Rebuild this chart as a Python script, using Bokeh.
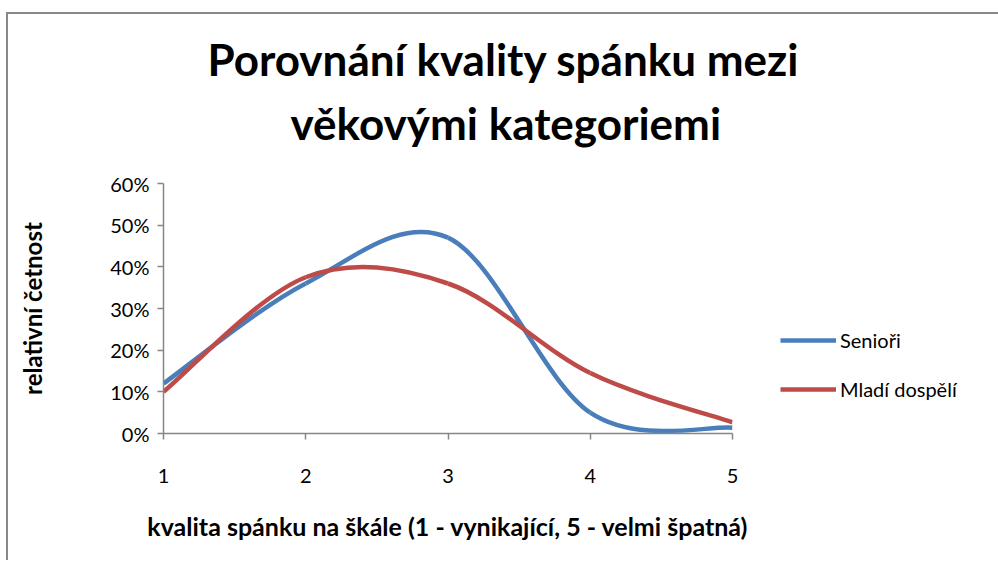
from bokeh.plotting import figure
from bokeh.models import (FixedTicker, NumeralTickFormatter, Legend, LegendItem,
                          ColumnDataSource, Range1d, Title)
from bokeh.embed import file_html
from bokeh.resources import INLINE

# ---- data ----
quality = [1, 2, 3, 4, 5]
seniori = [0.12, 0.36, 0.47, 0.05, 0.014]
mladi = [0.10, 0.375, 0.36, 0.145, 0.027]
series_names = ["Senioři", "Mladí dospělí"]
series_colors = ["#4A7EBB", "#BE4B48"]
y_ticks = [0, 0.1, 0.2, 0.3, 0.4, 0.5, 0.6]
title_lines = ["Porovnání kvality spánku mezi", "věkovými kategoriemi"]

FONT = "Lato"


def bezier_source(xs, ys):
    """Catmull-Rom style control points (Excel smoothed line)."""
    n = len(xs)
    d = dict(x0=[], y0=[], x1=[], y1=[], cx0=[], cy0=[], cx1=[], cy1=[])
    for i in range(n - 1):
        ip = max(i - 1, 0)
        inn = min(i + 2, n - 1)
        d["x0"].append(xs[i]); d["y0"].append(ys[i])
        d["x1"].append(xs[i + 1]); d["y1"].append(ys[i + 1])
        d["cx0"].append(xs[i] + (xs[i + 1] - xs[ip]) / 6)
        d["cy0"].append(ys[i] + (ys[i + 1] - ys[ip]) / 6)
        d["cx1"].append(xs[i + 1] - (xs[inn] - xs[i]) / 6)
        d["cy1"].append(ys[i + 1] - (ys[inn] - ys[i]) / 6)
    return ColumnDataSource(d)


p = figure(frame_width=569, frame_height=250, output_backend="svg",
           toolbar_location=None,
           x_range=Range1d(1, 5), y_range=Range1d(0, 0.6),
           title_location=None,
           min_border_left=155, min_border_right=256,
           min_border_top=169, min_border_bottom=127)

# title: two lines, placed with left offsets so they sit centred over the figure
spacer = Title(text=".", standoff=32, text_font_size="2px", text_color="white")
t2 = Title(text=title_lines[1], align="left", offset=127, standoff=0,
           text_font=FONT, text_font_style="bold", text_font_size="44px",
           text_color="black")
t1 = Title(text=title_lines[0], align="left", offset=44, standoff=19,
           text_font=FONT, text_font_style="bold", text_font_size="44px",
           text_color="black")
p.add_layout(spacer, "above")
p.add_layout(t2, "above")
p.add_layout(t1, "above")

items = []
for ys, name, col in zip([seniori, mladi], series_names, series_colors):
    src = bezier_source(quality, ys)
    r = p.bezier(x0="x0", y0="y0", x1="x1", y1="y1", cx0="cx0", cy0="cy0",
                 cx1="cx1", cy1="cy1", source=src, line_color=col, line_width=4.5)
    items.append(LegendItem(label=name, renderers=[r]))

legend = Legend(items=items, location=(48, 32), orientation="vertical",
                border_line_color=None, background_fill_alpha=0,
                padding=0, margin=0, spacing=25, glyph_width=56, glyph_height=22,
                label_height=22, label_standoff=4,
                label_text_font=FONT, label_text_font_size="20px",
                label_text_color="black")
p.add_layout(legend, "right")

p.xgrid.visible = False
p.ygrid.visible = False
p.outline_line_color = None
p.styles = {"border-top": "2px solid #888888", "border-left": "2px solid #888888",
            "margin-top": "12px", "margin-left": "6px"}

p.xaxis.ticker = FixedTicker(ticks=quality)
p.yaxis.ticker = FixedTicker(ticks=y_ticks)
p.yaxis.formatter = NumeralTickFormatter(format="0%")
for ax in (p.xaxis, p.yaxis):
    ax.axis_line_color = "#868686"
    ax.major_tick_line_color = "#868686"
    ax.axis_line_width = 1.5
    ax.major_tick_line_width = 1.5
    ax.major_tick_out = 6
    ax.major_tick_in = 0
    ax.minor_tick_line_color = None
    ax.major_label_text_font = FONT
    ax.major_label_text_font_size = "20px"
    ax.major_label_text_color = "black"
    ax.axis_label_text_font = FONT
    ax.axis_label_text_font_style = "bold"
    ax.axis_label_text_font_size = "24px"
    ax.axis_label_text_color = "black"

p.xaxis.major_label_standoff = 29
p.xaxis.axis_label = "kvalita spánku na škále (1 - vynikající, 5 - velmi špatná)"
p.xaxis.axis_label_text_font_size = "25px"
p.xaxis.axis_label_standoff = 25
p.yaxis.major_label_standoff = 8
p.yaxis.axis_label = "relativní četnost"
p.yaxis.axis_label_standoff = 60

open("out.html", "w").write(file_html(p, INLINE))
